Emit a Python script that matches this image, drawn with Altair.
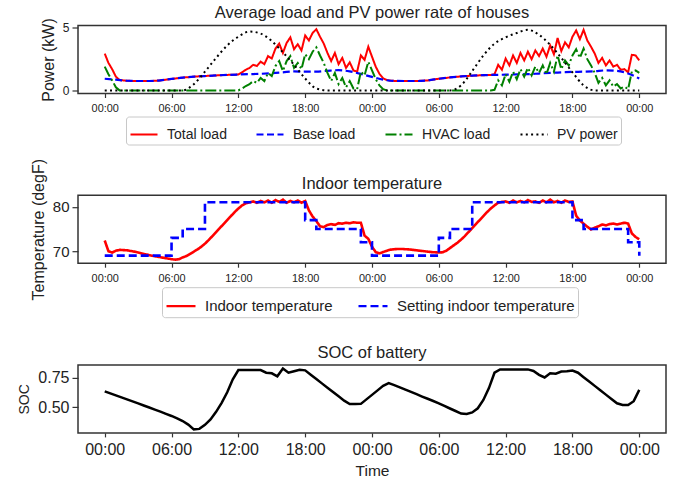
import altair as alt
import pandas as pd

FONT = "Liberation Sans"

# ---------------- time grids (hours from the first midnight) ----------------
hours_20min = [i / 3 for i in range(145)]
hours_1h = list(range(49))
hours_30min = [i / 2 for i in range(97)]

# ---------------- panel 1: average loads and PV (kW) ----------------
load_names = ["Total load", "Base load", "HVAC load", "PV power"]

total_load = [
    2.95, 2.20, 1.70, 1.10, 0.83, 0.80,            # 00:00 - 01:40
    0.77, 0.76, 0.75, 0.75, 0.75, 0.75,            # 02:00 - 03:40
    0.75, 0.76, 0.78, 0.80, 0.84, 0.88,            # 04:00 - 05:40
    0.92, 0.95, 0.99, 1.02, 1.05, 1.07,            # 06:00 - 07:40
    1.10, 1.12, 1.13, 1.15, 1.17, 1.18,            # 08:00 - 09:40
    1.20, 1.21, 1.23, 1.24, 1.25, 1.26,            # 10:00 - 11:40
    1.27, 1.45, 1.65, 1.80, 2.05, 1.95,            # 12:00 - 13:40
    2.30, 2.10, 2.75, 2.55, 3.35, 3.75,            # 14:00 - 15:40
    3.00, 3.80, 4.25, 3.30, 3.70, 3.20,            # 16:00 - 17:40
    4.40, 4.00, 4.60, 4.90, 4.30, 3.75,            # 18:00 - 19:40
    3.00, 2.35, 3.00, 2.10, 2.60, 1.80,            # 20:00 - 21:40
    2.25, 1.60, 1.50, 2.80, 2.45, 3.50,            # 22:00 - 23:40
    2.70, 1.90, 1.33, 0.96, 0.83, 0.79,            # 00:00 - 01:40
    0.76, 0.76, 0.75, 0.75, 0.75, 0.75,            # 02:00 - 03:40
    0.75, 0.77, 0.78, 0.80, 0.84, 0.89,            # 04:00 - 05:40
    0.93, 0.97, 1.00, 1.04, 1.07, 1.09,            # 06:00 - 07:40
    1.12, 1.14, 1.16, 1.18, 1.19, 1.21,            # 08:00 - 09:40
    1.22, 1.23, 1.23, 1.30, 2.05, 1.65,            # 10:00 - 11:40
    2.55, 2.00, 2.80, 2.20, 3.00, 2.40,            # 12:00 - 13:40
    3.10, 2.50, 3.20, 2.75, 3.35, 2.70,            # 14:00 - 15:40
    3.60, 2.90, 4.20, 3.15, 3.85, 3.45,            # 16:00 - 17:40
    4.30, 4.80, 4.10, 4.85, 4.00, 3.50,            # 18:00 - 19:40
    2.95, 2.20, 2.60, 2.00, 2.40, 1.90,            # 20:00 - 21:40
    2.05, 1.65, 1.70, 1.45, 2.85, 2.80,            # 22:00 - 23:40
    2.40,                                          # 00:00
]

hvac_load = [
    1.90, 1.30, 0.80, 0.25, 0.00, 0.00,
    0.00, 0.00, 0.00, 0.00, 0.00, 0.00,
    0.00, 0.00, 0.00, 0.00, 0.00, 0.00,
    0.00, 0.00, 0.00, 0.00, 0.00, 0.00,
    0.00, 0.00, 0.00, 0.00, 0.00, 0.00,
    0.00, 0.00, 0.00, 0.00, 0.00, 0.00,
    0.00, 0.15, 0.35, 0.50, 0.75, 0.60,
    1.00, 0.75, 1.40, 1.15, 1.95, 2.35,
    1.55, 2.35, 2.75, 1.80, 2.20, 1.70,
    2.90, 2.50, 3.10, 3.45, 2.80, 2.20,
    1.40, 0.75, 1.40, 0.50, 1.00, 0.25,
    0.75, 0.15, 0.10, 1.50, 1.20, 2.30,
    1.60, 0.90, 0.40, 0.10, 0.00, 0.00,
    0.00, 0.00, 0.00, 0.00, 0.00, 0.00,
    0.00, 0.00, 0.00, 0.00, 0.00, 0.00,
    0.00, 0.00, 0.00, 0.00, 0.00, 0.00,
    0.00, 0.00, 0.00, 0.00, 0.00, 0.00,
    0.00, 0.00, 0.00, 0.05, 0.80, 0.40,
    1.30, 0.70, 1.50, 0.90, 1.70, 1.10,
    1.80, 1.20, 1.90, 1.40, 2.00, 1.30,
    2.20, 1.50, 2.80, 1.70, 2.40, 2.00,
    2.80, 3.30, 2.60, 3.35, 2.50, 2.00,
    1.40, 0.60, 1.00, 0.40, 0.80, 0.30,
    0.50, 0.15, 0.30, 0.10, 1.50, 1.60,
    1.40,
]

base_load = [
    0.93, 0.86, 0.77, 0.75, 0.75, 0.80, 0.92, 1.02, 1.10, 1.15, 1.20, 1.24,
    1.27, 1.30, 1.33, 1.38, 1.45, 1.52, 1.50, 1.50, 1.57, 1.62, 1.52, 1.32,
    1.08, 0.86, 0.76, 0.75, 0.75, 0.80, 0.93, 1.04, 1.12, 1.18, 1.22, 1.24,
    1.26, 1.28, 1.30, 1.35, 1.40, 1.44, 1.48, 1.50, 1.54, 1.60, 1.56, 1.35,
    0.95,
]

pv_power = [
    0.00, 0.00, 0.00, 0.00, 0.00, 0.00, 0.00, 0.00, 0.50, 1.50, 2.60, 3.60,
    4.30, 4.72, 4.55, 3.95, 3.05, 2.05, 0.95, 0.15, 0.00, 0.00, 0.00, 0.00,
    0.00, 0.00, 0.00, 0.00, 0.00, 0.00, 0.00, 0.00, 0.40, 1.55, 2.80, 3.75,
    4.25, 4.60, 4.85, 4.45, 3.65, 2.60, 1.45, 0.40, 0.00, 0.00, 0.00, 0.00,
    0.00,
]

# ---------------- panel 2: indoor temperature (degF) ----------------
temp_names = ["Indoor temperature", "Setting indoor temperature"]

indoor_temp = [
    72.4, 70.0, 69.7, 70.1, 70.3, 70.25,
    70.2, 70.05, 69.9, 69.7, 69.5, 69.3,
    69.1, 68.95, 68.8, 68.65, 68.5, 68.35,
    68.2, 68.1, 68.2, 68.6, 68.9, 69.4,
    69.9, 70.4, 71.0, 71.7, 72.5, 73.4,
    74.3, 75.2, 76.1, 77.0, 77.9, 78.8,
    79.6, 80.3, 80.8, 81.0, 81.2, 80.9,
    81.3, 81.0, 81.4, 80.9, 81.5, 81.1,
    81.6, 80.9, 81.3, 81.0, 81.4, 80.9,
    81.3, 79.2, 77.8, 76.8, 75.6, 75.4,
    75.9, 76.1, 75.9, 76.3, 76.2, 76.4,
    76.3, 76.5, 76.4, 76.4, 73.5, 72.8,
    71.0, 69.8, 69.5, 69.8, 70.1, 70.35,
    70.45, 70.5, 70.5, 70.45, 70.4, 70.3,
    70.2, 70.1, 70.0, 69.9, 69.8, 69.75,
    69.7, 69.75, 70.1, 70.7, 71.3, 71.9,
    72.6, 73.4, 74.3, 75.2, 76.1, 77.0,
    77.9, 78.8, 79.6, 80.3, 80.9, 81.1,
    81.2, 80.9, 81.4, 81.0, 81.3, 81.0,
    81.5, 81.1, 81.2, 80.9, 81.4, 81.0,
    81.6, 81.0, 81.3, 80.9, 81.4, 81.1,
    81.2, 78.0, 76.9, 76.2, 75.5, 74.9,
    75.3, 75.6, 76.0, 75.8, 76.1, 76.2,
    76.0, 76.2, 76.4, 76.2, 74.0, 73.2,
    72.7,
]

setpoint = [
    69, 69, 69, 69, 69, 69, 73, 75, 75, 81, 81, 81,
    81, 81, 81, 81, 81, 81, 77, 75, 75, 75, 75, 72,
    69, 69, 69, 69, 69, 69, 73, 75, 75, 81, 81, 81,
    81, 81, 81, 81, 81, 81, 77, 75, 75, 75, 75, 72,
    69,
]

# ---------------- panel 3: battery state of charge ----------------
soc = [
    0.633, 0.616, 0.599, 0.582, 0.565, 0.548, 0.531, 0.513,
    0.496, 0.479, 0.461, 0.443, 0.425, 0.405, 0.382, 0.352,
    0.312, 0.316, 0.350, 0.395, 0.460, 0.536, 0.625, 0.735,
    0.812, 0.812, 0.812, 0.812, 0.812, 0.790, 0.785, 0.760,
    0.826, 0.790, 0.803, 0.815, 0.810, 0.773, 0.737, 0.700,
    0.664, 0.627, 0.591, 0.554, 0.525, 0.525, 0.527, 0.565,
    0.603, 0.641, 0.679, 0.702, 0.685, 0.666, 0.647, 0.628,
    0.609, 0.589, 0.570, 0.551, 0.532, 0.510, 0.488, 0.467,
    0.445, 0.441, 0.455, 0.490, 0.560, 0.660, 0.790, 0.818,
    0.818, 0.818, 0.818, 0.818, 0.818, 0.805, 0.772, 0.750,
    0.785, 0.782, 0.800, 0.803, 0.808, 0.790, 0.752, 0.715,
    0.679, 0.642, 0.605, 0.569, 0.532, 0.517, 0.517, 0.550,
    0.645,
]

# ---------------- tables ----------------
load_df = pd.concat([
    pd.DataFrame({"hour": hours_20min, "kw": total_load, "load": "Total load"}),
    pd.DataFrame({"hour": hours_1h, "kw": base_load, "load": "Base load"}),
    pd.DataFrame({"hour": hours_20min, "kw": hvac_load, "load": "HVAC load"}),
    pd.DataFrame({"hour": hours_1h, "kw": pv_power, "load": "PV power"}),
], ignore_index=True)

temp_df = pd.concat([
    pd.DataFrame({"hour": hours_20min, "temp": indoor_temp, "curve": "Indoor temperature"}),
    pd.DataFrame({"hour": hours_1h, "temp": setpoint, "curve": "Setting indoor temperature"}),
], ignore_index=True)

soc_df = pd.DataFrame({"hour": hours_30min, "soc": soc})

# ---------------- shared styling ----------------
W, H = 588, 68
x_scale = alt.Scale(domain=[-2.4, 50.4], nice=False, zero=False)
clock = "(datum.value % 24 < 10 ? '0' : '') + (datum.value % 24) + ':00'"


def time_axis(label_size, title=None):
    args = dict(values=list(range(0, 49, 6)), labelExpr=clock, labelFontSize=label_size,
                tickSize=4, labelPadding=5, labelFlush=False, labelOverlap=False)
    if title:
        args.update(title=title, titleFontSize=15.5, titlePadding=6)
    else:
        args.update(title=None)
    return alt.Axis(**args)


def panel_title(text, offset):
    # the offset is counted from the top of the axis bounds, which a long
    # rotated y title can push above the plot
    return alt.TitleParams(text=text, fontSize=16.5, font=FONT, fontWeight="normal",
                           anchor="middle", frame="group", offset=offset, color="#222")


def legend(x, y, columns, size, label_size, offset, col_pad):
    return alt.Legend(title=None, orient="none", legendX=x, legendY=y,
                      direction="horizontal", columns=columns,
                      symbolType="stroke", symbolSize=size, symbolStrokeWidth=2.2,
                      labelFontSize=label_size, labelFont=FONT, labelColor="#222",
                      labelLimit=400, labelOffset=offset, columnPadding=col_pad, padding=3,
                      strokeColor="#c8c8c8", fillColor="white", cornerRadius=3)


# ---------------- panel 1 ----------------
leg1 = legend(48, 91, 4, 729, 14, 8, 25)
load_base = alt.Chart(load_df).encode(
    x=alt.X("hour:Q", scale=x_scale, axis=time_axis(10.9)),
    y=alt.Y("kw:Q", scale=alt.Scale(domain=[-0.25, 5.2], nice=False, zero=False),
            axis=alt.Axis(values=[0, 5], title="Power (kW)", titleFontSize=16,
                          labelFontSize=12, tickSize=6, labelPadding=3, titlePadding=6)),
    color=alt.Color("load:N", scale=alt.Scale(domain=load_names,
                    range=["#ff0000", "#0000ff", "#008000", "#000000"]), legend=leg1),
    strokeDash=alt.StrokeDash("load:N", scale=alt.Scale(domain=load_names,
                              range=[[1, 0], [7, 3.5], [11, 3, 2, 3], [2, 3.3]]), legend=leg1),
)
load_layers = [
    load_base.transform_filter(alt.datum.load == "Total load").mark_line(strokeWidth=2),
    load_base.transform_filter(alt.datum.load == "Base load").mark_line(strokeWidth=2.2, interpolate="monotone"),
    load_base.transform_filter(alt.datum.load == "HVAC load").mark_line(strokeWidth=2),
    load_base.transform_filter(alt.datum.load == "PV power").mark_line(strokeWidth=2, interpolate="monotone"),
]
p1 = alt.layer(*load_layers).properties(
    width=W, height=H, title=panel_title("Average load and PV power rate of houses", -4))

# ---------------- panel 2 ----------------
leg2 = legend(84, 92, 2, 841, 15, 8, 21)
temp_base = alt.Chart(temp_df).encode(
    x=alt.X("hour:Q", scale=x_scale, axis=time_axis(10.9)),
    y=alt.Y("temp:Q", scale=alt.Scale(domain=[67.3, 82.6], nice=False, zero=False),
            axis=alt.Axis(values=[70, 80], title="Temperature (degF)", titleFontSize=16,
                          labelFontSize=15, tickSize=6, labelPadding=3, titlePadding=6)),
    color=alt.Color("curve:N", scale=alt.Scale(domain=temp_names,
                    range=["#ff0000", "#0000ff"]), legend=leg2),
    strokeDash=alt.StrokeDash("curve:N", scale=alt.Scale(domain=temp_names,
                              range=[[1, 0], [8, 4]]), legend=leg2),
)
p2 = alt.layer(
    temp_base.transform_filter(alt.datum.curve == "Indoor temperature").mark_line(strokeWidth=2.6),
    temp_base.transform_filter(alt.datum.curve == "Setting indoor temperature").mark_line(
        strokeWidth=2.6, interpolate="step-after"),
).properties(width=W, height=H, title=panel_title("Indoor temperature", -34))

# ---------------- panel 3 ----------------
p3 = alt.Chart(soc_df).mark_line(color="black", strokeWidth=2.5).encode(
    x=alt.X("hour:Q", scale=x_scale, axis=time_axis(16, "Time")),
    y=alt.Y("soc:Q", scale=alt.Scale(domain=[0.282, 0.856], nice=False, zero=False),
            axis=alt.Axis(values=[0.5, 0.75], format=".2f", title="SOC", titleFontSize=14,
                          labelFontSize=16, tickSize=6, labelPadding=3, titlePadding=6)),
).properties(width=W, height=H, title=panel_title("SOC of battery", 2))

# plot areas are stacked at a fixed pitch; titles, axes and legends sit in the gaps
chart = (
    alt.vconcat(p1, p2, p3, spacing=101.7, bounds="flush")
    .resolve_scale(color="independent", strokeDash="independent")
    .resolve_legend(color="independent", strokeDash="independent")
    .properties(padding={"left": 17, "top": 3.5, "right": 5, "bottom": 4})
    .configure(font=FONT)
    .configure_view(stroke="#333333", strokeWidth=1.5)
    .configure_axis(domain=False, grid=False, tickColor="#333333", tickWidth=1.2,
                    labelColor="#222222", titleColor="#222222", titleFontWeight="normal",
                    labelFont=FONT, titleFont=FONT)
)

chart.save("out.html", embed_options={"renderer": "svg", "actions": False})
